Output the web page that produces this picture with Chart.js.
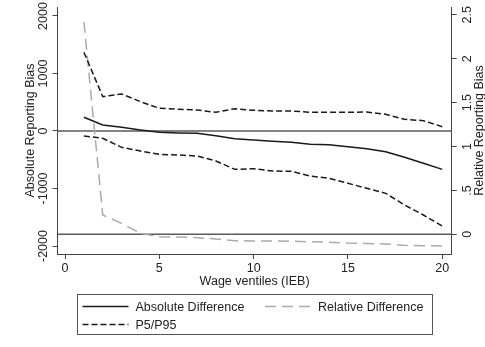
<!DOCTYPE html>
<html>
<head>
<meta charset="utf-8">
<script src="https://cdn.jsdelivr.net/npm/chart.js@4/dist/chart.umd.min.js"></script>
<style>
  html, body { margin: 0; padding: 0; background: #fff; }
  #wrap { width: 485px; height: 347px; }
</style>
</head>
<body>
<div id="wrap"><canvas id="grafico"></canvas></div>
<script>
// --- DADOS ---
const ventiles = [1, 2, 3, 4, 5, 6, 7, 8, 9, 10, 11, 12, 13, 14, 15, 16, 17, 18, 19, 20];
const absDiff = [238, 104, 64, 17, -23, -35, -41, -81, -133, -157, -180, -197, -230, -238, -273, -307, -360, -458, -562, -667];
const p95 = [1369, 597, 643, 510, 395, 377, 365, 325, 388, 360, 348, 348, 325, 325, 325, 330, 290, 203, 180, 75];
const p5 = [-87, -127, -284, -348, -406, -417, -435, -522, -667, -655, -696, -701, -785, -823, -910, -997, -1084, -1287, -1461, -1652];
const relDiff = [2.42, 0.22, 0.125, 0.011, -0.027, -0.031, -0.038, -0.053, -0.072, -0.075, -0.075, -0.078, -0.085, -0.09, -0.1, -0.105, -0.11, -0.125, -0.13, -0.133];

const xTicks = [0, 5, 10, 15, 20];
const leftTicks = [-2000, -1000, 0, 1000, 2000];
const rightTicks = [0, 0.5, 1, 1.5, 2, 2.5];
const rightTickLabels = ['0', '.5', '1', '1.5', '2', '2.5'];

const xTitle = 'Wage ventiles (IEB)';
const leftTitle = 'Absolute Reporting Bias';
const rightTitle = 'Relative Reporting Bias';
const legendLabels = ['Absolute Difference', 'Relative Difference', 'P5/P95'];

const FONT = '12.5px "Liberation Sans", Arial, sans-serif';
const AXIS = '#444';

const pts = (arr) => ventiles.map((v, i) => ({ x: v, y: arr[i] }));

// --- PLUGIN: linhas de referência, rótulos girados e legenda ---
const stataPlugin = {
    id: 'stata',
    beforeDatasetsDraw(chart) {
        const { ctx, chartArea: a, scales } = chart;
        ctx.save();
        ctx.strokeStyle = '#5a5a5a';
        ctx.lineWidth = 1.5;
        [scales.yL.getPixelForValue(0), scales.yR.getPixelForValue(0)].forEach(y => {
            ctx.beginPath();
            ctx.moveTo(a.left, y);
            ctx.lineTo(a.right, y);
            ctx.stroke();
        });
        ctx.restore();
    },
    afterDraw(chart) {
        const { ctx, chartArea: a, scales } = chart;
        ctx.save();
        ctx.fillStyle = '#222';
        ctx.font = FONT;
        ctx.textAlign = 'center';
        ctx.textBaseline = 'middle';

        // rótulos do eixo y girados (estilo Stata)
        const rotText = (txt, x, y) => {
            ctx.save();
            ctx.translate(x, y);
            ctx.rotate(-Math.PI / 2);
            ctx.fillText(txt, 0, 0);
            ctx.restore();
        };
        leftTicks.forEach(v => rotText(String(v), a.left - 14, scales.yL.getPixelForValue(v)));
        rightTicks.forEach((v, i) => rotText(rightTickLabels[i], a.right + 16, scales.yR.getPixelForValue(v)));
        const midY = (a.top + a.bottom) / 2;
        rotText(leftTitle, a.left - 26.5, midY);
        rotText(rightTitle, a.right + 27.5, midY);

        // título do eixo x
        ctx.fillText(xTitle, (a.left + a.right) / 2, a.bottom + 28);

        // legenda em caixa
        const bx = 77.5, by = 294.5, bw = 355, bh = 40;
        ctx.strokeStyle = '#555';
        ctx.lineWidth = 1;
        ctx.strokeRect(bx, by, bw, bh);
        const item = (x, y, color, dash, label) => {
            ctx.save();
            ctx.strokeStyle = color;
            ctx.lineWidth = 1.5;
            ctx.setLineDash(dash);
            ctx.beginPath();
            ctx.moveTo(x, y);
            ctx.lineTo(x + 46, y);
            ctx.stroke();
            ctx.restore();
            ctx.textAlign = 'left';
            ctx.fillText(label, x + 53, y + 1);
        };
        item(82.5, 306.5, '#1a1a1a', [], legendLabels[0]);
        item(265, 306.5, '#aaaaaa', [11, 6], legendLabels[1]);
        item(82.5, 324.5, '#1a1a1a', [6, 3], legendLabels[2]);
        ctx.restore();
    }
};

const axisCommon = {
    grid: { drawOnChartArea: false, drawTicks: true, tickLength: 5, color: AXIS },
    border: { display: true, color: AXIS, width: 1 }
};

new Chart(document.getElementById('grafico'), {
    type: 'line',
    data: {
        datasets: [
            { label: legendLabels[0], data: pts(absDiff), yAxisID: 'yL', borderColor: '#1a1a1a', borderWidth: 1.5 },
            { label: legendLabels[2], data: pts(p95), yAxisID: 'yL', borderColor: '#1a1a1a', borderWidth: 1.5, borderDash: [6, 3] },
            { label: legendLabels[2], data: pts(p5), yAxisID: 'yL', borderColor: '#1a1a1a', borderWidth: 1.5, borderDash: [6, 3] },
            { label: legendLabels[1], data: pts(relDiff), yAxisID: 'yR', borderColor: '#aaaaaa', borderWidth: 1.5, borderDash: [11, 6] }
        ]
    },
    options: {
        responsive: true,
        maintainAspectRatio: false,
        animation: false,
        layout: { padding: { top: 7, left: 0, right: 0, bottom: 0 } },
        elements: { point: { radius: 0 }, line: { tension: 0, fill: false } },
        plugins: { legend: { display: false }, tooltip: { enabled: false } },
        scales: {
            x: {
                type: 'linear', min: -0.4, max: 20.5,
                ...axisCommon,
                ticks: { color: '#222', font: { family: '"Liberation Sans", Arial, sans-serif', size: 12.5 }, padding: 2, maxRotation: 0 },
                afterBuildTicks: s => { s.ticks = xTicks.map(v => ({ value: v })); },
                afterFit: s => { s.height = 93; }
            },
            yL: {
                type: 'linear', position: 'left', min: -2139, max: 2156,
                ...axisCommon,
                ticks: { display: false },
                afterBuildTicks: s => { s.ticks = leftTicks.map(v => ({ value: v })); },
                afterFit: s => { s.width = 57.5; }
            },
            yR: {
                type: 'linear', position: 'right', min: -0.224, max: 2.589,
                ...axisCommon,
                ticks: { display: false },
                afterBuildTicks: s => { s.ticks = rightTicks.map(v => ({ value: v })); },
                afterFit: s => { s.width = 33.3; }
            }
        }
    },
    plugins: [stataPlugin]
});
</script>
</body>
</html>
